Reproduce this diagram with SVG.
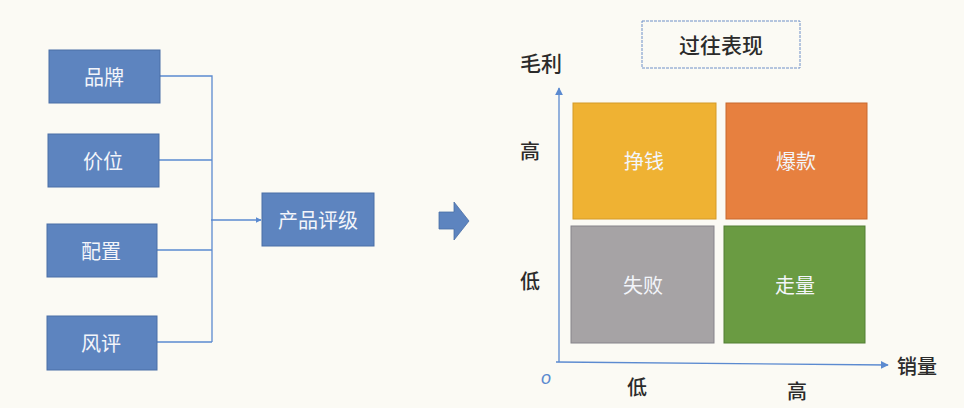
<svg xmlns="http://www.w3.org/2000/svg" width="964" height="408" viewBox="0 0 964 408">
<defs>
<style>
.box{fill:#5D84BF;stroke:#4A6EA6;stroke-width:1}
.wt{font-family:"Noto Sans CJK SC","Noto Sans",sans-serif;font-size:20px;fill:#F3F5FA;text-anchor:middle;dominant-baseline:central}
.dk{font-family:"Noto Sans CJK SC","Noto Sans",sans-serif;font-size:20px;font-weight:500;fill:#2B2B2B;text-anchor:middle;dominant-baseline:central}
.ln{fill:none;stroke:#5B8AD0;stroke-width:1.3}
.q{stroke-width:1}
</style>
<marker id="ah" viewBox="0 0 10 10" refX="9" refY="5" markerWidth="6" markerHeight="6" orient="auto" markerUnits="userSpaceOnUse">
<path d="M0,0 L10,5 L0,10 z" fill="#5B8AD0"/>
</marker>
<marker id="ah2" viewBox="0 0 10 10" refX="9" refY="5" markerWidth="8" markerHeight="8" orient="auto" markerUnits="userSpaceOnUse">
<path d="M0,0 L10,5 L0,10 z" fill="#5B8AD0"/>
</marker>
</defs>
<rect width="964" height="408" fill="#FBFAF4"/>

<g id="connectors">
<path class="ln" d="M160,76 H212 V342 M159,160 H212 M157,250 H212 M157,342 H212"/>
<path class="ln" d="M211,220 H261" marker-end="url(#ah)"/>
<path class="ln" d="M559,362 V88" marker-end="url(#ah2)"/>
<path class="ln" d="M556,362 L888,365" marker-end="url(#ah2)"/>
</g>

<g id="n-pinpai"><rect class="box" x="49" y="50" width="111" height="53"/><text class="wt" x="104" y="76">品牌</text></g>
<g id="n-jiawei"><rect class="box" x="48" y="134" width="111" height="53"/><text class="wt" x="103" y="160">价位</text></g>
<g id="n-peizhi"><rect class="box" x="47" y="224" width="110" height="53"/><text class="wt" x="101" y="250">配置</text></g>
<g id="n-fengping"><rect class="box" x="47" y="316" width="110" height="54"/><text class="wt" x="101" y="342">风评</text></g>
<g id="n-pingji"><rect class="box" x="262" y="193" width="112" height="53"/><text class="wt" x="318" y="219">产品评级</text></g>

<g id="big-arrow"><path d="M439,212 H454 V202 L469,221 L454,240 V229 H439 Z" fill="#5D84BF" stroke="#4A6EA6" stroke-width="0.8"/></g>

<g id="n-title"><rect x="642" y="21" width="158" height="47" fill="none" stroke="#6E90C8" stroke-width="1" stroke-dasharray="3 1"/><text class="dk" x="721" y="44" style="font-size:21px">过往表现</text></g>

<g id="n-zhengqian"><rect class="q" x="573" y="103" width="143" height="116" fill="#EFB233" stroke="#D49A28"/><text class="wt" x="644" y="160">挣钱</text></g>
<g id="n-baokuan"><rect class="q" x="726" y="103" width="141" height="116" fill="#E7803F" stroke="#C8692E"/><text class="wt" x="796" y="160">爆款</text></g>
<g id="n-shibai"><rect class="q" x="571" y="226" width="143" height="117" fill="#A6A3A5" stroke="#86838A"/><text class="wt" x="643" y="284">失败</text></g>
<g id="n-zouliang"><rect class="q" x="724" y="226" width="141" height="117" fill="#6A9B42" stroke="#527E33"/><text class="wt" x="795" y="284">走量</text></g>

<g id="labels">
<text class="dk" x="541" y="62" style="font-size:21px">毛利</text>
<text class="dk" x="530" y="150">高</text>
<text class="dk" x="530" y="280">低</text>
<text class="dk" x="917" y="365">销量</text>
<text class="dk" x="637" y="386">低</text>
<text class="dk" x="797" y="390">高</text>
<text x="546" y="378" style="font-family:'Liberation Sans',sans-serif;font-size:18px;font-style:italic;fill:#5B8AD0;text-anchor:middle;dominant-baseline:central">o</text>
</g>
</svg>
